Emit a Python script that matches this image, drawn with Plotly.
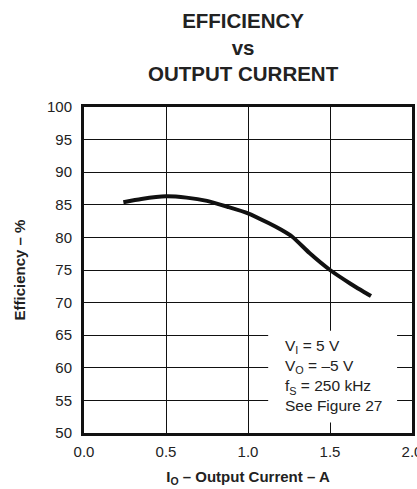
import plotly.graph_objects as go

# Data
current_a = [0.24, 0.35, 0.5, 0.625, 0.75, 0.875, 1.0, 1.125, 1.2, 1.27, 1.375, 1.5, 1.625, 1.75]
efficiency_pct = [85.4, 85.9, 86.3, 86.1, 85.6, 84.7, 83.7, 82.2, 81.2, 80.1, 77.6, 75.0, 72.9, 71.0]

x_ticks = [0.0, 0.5, 1.0, 1.5, 2.0]
x_tick_labels = ["0.0", "0.5", "1.0", "1.5", "2.0"]
y_ticks = [50, 55, 60, 65, 70, 75, 80, 85, 90, 95, 100]

conditions = [
    "V<sub>I</sub> = 5 V",
    "V<sub>O</sub> = \u20135 V",
    "f<sub>S</sub> = 250 kHz",
    "See Figure 27",
]

FONT = "Liberation Sans, Arial, sans-serif"
TXT = "#222222"

fig = go.Figure()
fig.add_trace(go.Scatter(
    x=current_a, y=efficiency_pct, mode="lines",
    line=dict(color="#111111", width=4, shape="spline", smoothing=0.6),
    hoverinfo="skip", showlegend=False,
))

fig.update_layout(
    width=417, height=489,
    margin=dict(l=83.5, r=5, t=106.7, b=56.3, autoexpand=False),
    paper_bgcolor="white", plot_bgcolor="white",
    font=dict(family=FONT, color=TXT, size=15),
    xaxis=dict(
        range=[0, 2], tickvals=x_ticks, ticktext=x_tick_labels,
        showgrid=True, gridcolor="#111111", gridwidth=1.3,
        showline=True, linecolor="#111111", linewidth=3, mirror=True,
        zeroline=False, ticks="outside", ticklen=3, tickcolor="rgba(0,0,0,0)",
        tickfont=dict(size=15), ticklabeloverflow="allow",
        title=dict(text="<b>I<sub>O</sub> \u2013 Output Current \u2013 A</b>",
                   font=dict(size=15), standoff=13),
        fixedrange=True,
    ),
    yaxis=dict(
        range=[50, 100], tickvals=y_ticks,
        showgrid=True, gridcolor="#111111", gridwidth=1.3,
        showline=True, linecolor="#111111", linewidth=3, mirror=True,
        zeroline=False, ticks="outside", ticklen=6, tickcolor="rgba(0,0,0,0)",
        tickfont=dict(size=15),
        title=dict(text="<b>Efficiency \u2013 %</b>", font=dict(size=15), standoff=18),
        fixedrange=True,
    ),
)

# chart title (three lines)
fig.add_annotation(
    text="<b>EFFICIENCY<br>vs<br>OUTPUT CURRENT</b>",
    xref="paper", yref="paper", x=(243 - 83.5) / (412 - 83.5), y=1 + (106.7 - 7) / 326,
    xanchor="center", yanchor="top", showarrow=False,
    font=dict(size=20.5, family=FONT, color=TXT),
)

# white box behind the test-condition text
fig.add_shape(type="rect", xref="x", yref="y", x0=1.123, x1=1.909, y0=51.6, y1=65.7,
              fillcolor="white", line=dict(width=0), layer="above")

fig.add_annotation(
    text="<br>".join(conditions), xref="x", yref="y", x=1.214, y=58.85,
    xanchor="left", yanchor="middle", align="left", showarrow=False,
    font=dict(size=15.5, family=FONT, color=TXT),
)

fig.write_html("out.html")
